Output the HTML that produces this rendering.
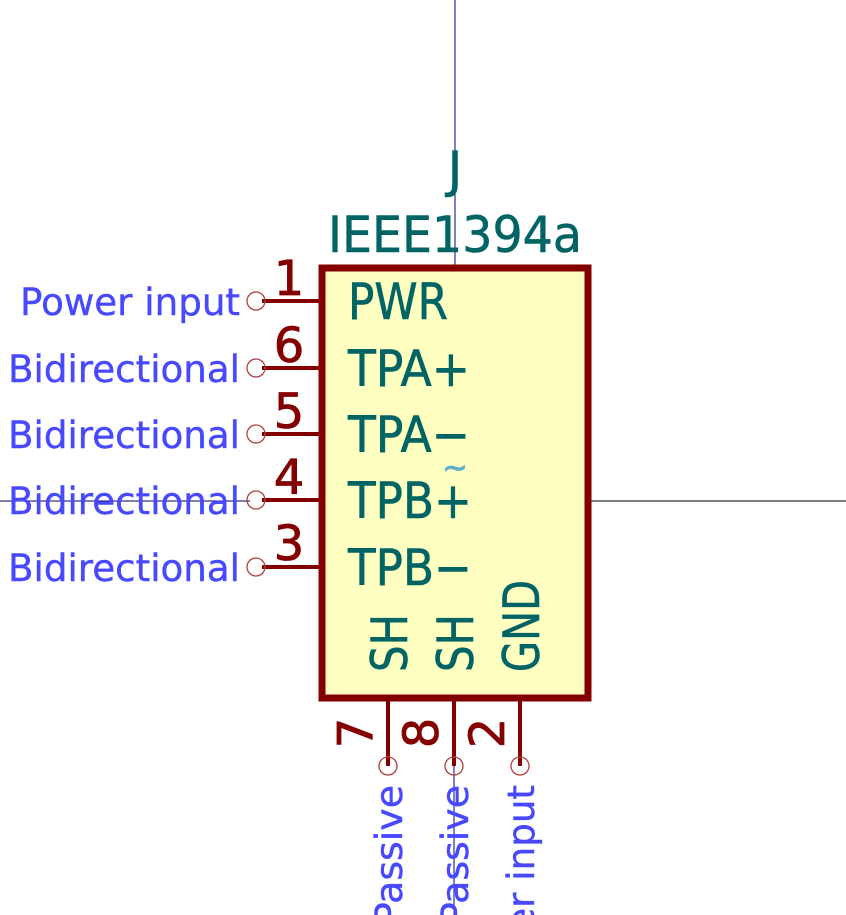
<!DOCTYPE html>
<html><head><style>html,body{margin:0;padding:0;background:#fff;width:846px;height:915px;overflow:hidden}svg{display:block}</style></head>
<body>
<svg width="846" height="915" viewBox="0 0 846 915" xmlns="http://www.w3.org/2000/svg">
<rect width="846" height="915" fill="#fff"/>
<line x1="455" y1="0" x2="455" y2="268" stroke="#00008a" stroke-width="1"/>
<line x1="454" y1="765" x2="454" y2="915" stroke="#00008a" stroke-width="1"/>
<line x1="0" y1="501" x2="250" y2="501" stroke="#00005a" stroke-width="1"/>
<line x1="590" y1="501" x2="846" y2="501" stroke="#000" stroke-width="1"/>
<rect x="322" y="268" width="266" height="430" fill="#ffffc2" stroke="#840000" stroke-width="7"/>
<g stroke="#840000" stroke-width="4">
<line x1="262" y1="301" x2="322" y2="301"/>
<line x1="262" y1="368" x2="322" y2="368"/>
<line x1="262" y1="434" x2="322" y2="434"/>
<line x1="262" y1="500" x2="322" y2="500"/>
<line x1="262" y1="567" x2="322" y2="567"/>
<line x1="388" y1="698" x2="388" y2="766"/>
<line x1="454" y1="698" x2="454" y2="766"/>
<line x1="520" y1="698" x2="520" y2="766"/>
</g>
<g fill="none" stroke="#b04040" stroke-width="1.3">
<circle cx="256" cy="301" r="9"/><circle cx="256" cy="368" r="9"/><circle cx="256" cy="434" r="9"/><circle cx="256" cy="500" r="9"/><circle cx="256" cy="567" r="9"/>
<circle cx="388" cy="766" r="9"/><circle cx="454" cy="766" r="9"/><circle cx="520" cy="766" r="9"/>
</g>
<g font-family="DejaVu Sans, Liberation Sans, sans-serif" fill="#840000" stroke="#840000" stroke-width="0.8" font-size="48" text-anchor="middle">
<text x="289" y="295">1</text><text x="289" y="362">6</text><text x="289" y="428">5</text><text x="289" y="494">4</text><text x="289" y="560">3</text>
<text transform="translate(372,733) rotate(-90)">7</text>
<text transform="translate(438,733) rotate(-90)">8</text>
<text transform="translate(504,733) rotate(-90)">2</text>
</g>
<g font-family="DejaVu Sans, Liberation Sans, sans-serif" fill="#006464" stroke="#006464" stroke-width="0.6" font-size="50" lengthAdjust="spacingAndGlyphs">
<text x="348" y="319" textLength="100" lengthAdjust="spacingAndGlyphs">PWR</text>
<text x="348" y="386" textLength="122" lengthAdjust="spacingAndGlyphs">TPA+</text>
<text x="348" y="452" textLength="122" lengthAdjust="spacingAndGlyphs">TPA−</text>
<text x="348" y="518" textLength="124" lengthAdjust="spacingAndGlyphs">TPB+</text>
<text x="348" y="585" textLength="124" lengthAdjust="spacingAndGlyphs">TPB−</text>
<text transform="translate(407,672) rotate(-90)" textLength="58" lengthAdjust="spacingAndGlyphs">SH</text>
<text transform="translate(473,672) rotate(-90)" textLength="58" lengthAdjust="spacingAndGlyphs">SH</text>
<text transform="translate(539,672) rotate(-90)" textLength="92" lengthAdjust="spacingAndGlyphs">GND</text>
<text x="455" y="187" text-anchor="middle">J</text>
<text x="455" y="252" text-anchor="middle" textLength="254" lengthAdjust="spacingAndGlyphs">IEEE1394a</text>
</g>
<text x="455" y="478" font-family="DejaVu Sans, sans-serif" font-size="30" fill="#5fb0c8" stroke="#5fb0c8" stroke-width="1" text-anchor="middle">~</text>
<g font-family="DejaVu Sans, Liberation Sans, sans-serif" fill="#4848ff" stroke="#4848ff" stroke-width="0.4" font-size="37" text-anchor="end">
<text x="240" y="315" textLength="220" lengthAdjust="spacingAndGlyphs">Power input</text>
<text x="240" y="382" textLength="232" lengthAdjust="spacingAndGlyphs">Bidirectional</text>
<text x="240" y="448" textLength="232" lengthAdjust="spacingAndGlyphs">Bidirectional</text>
<text x="240" y="514" textLength="232" lengthAdjust="spacingAndGlyphs">Bidirectional</text>
<text x="240" y="581" textLength="232" lengthAdjust="spacingAndGlyphs">Bidirectional</text>
<text transform="translate(402,785) rotate(-90)" textLength="140" lengthAdjust="spacingAndGlyphs">Passive</text>
<text transform="translate(468,785) rotate(-90)" textLength="140" lengthAdjust="spacingAndGlyphs">Passive</text>
<text transform="translate(534,785) rotate(-90)" textLength="220" lengthAdjust="spacingAndGlyphs">Power input</text>
</g>
</svg>
</body></html>
